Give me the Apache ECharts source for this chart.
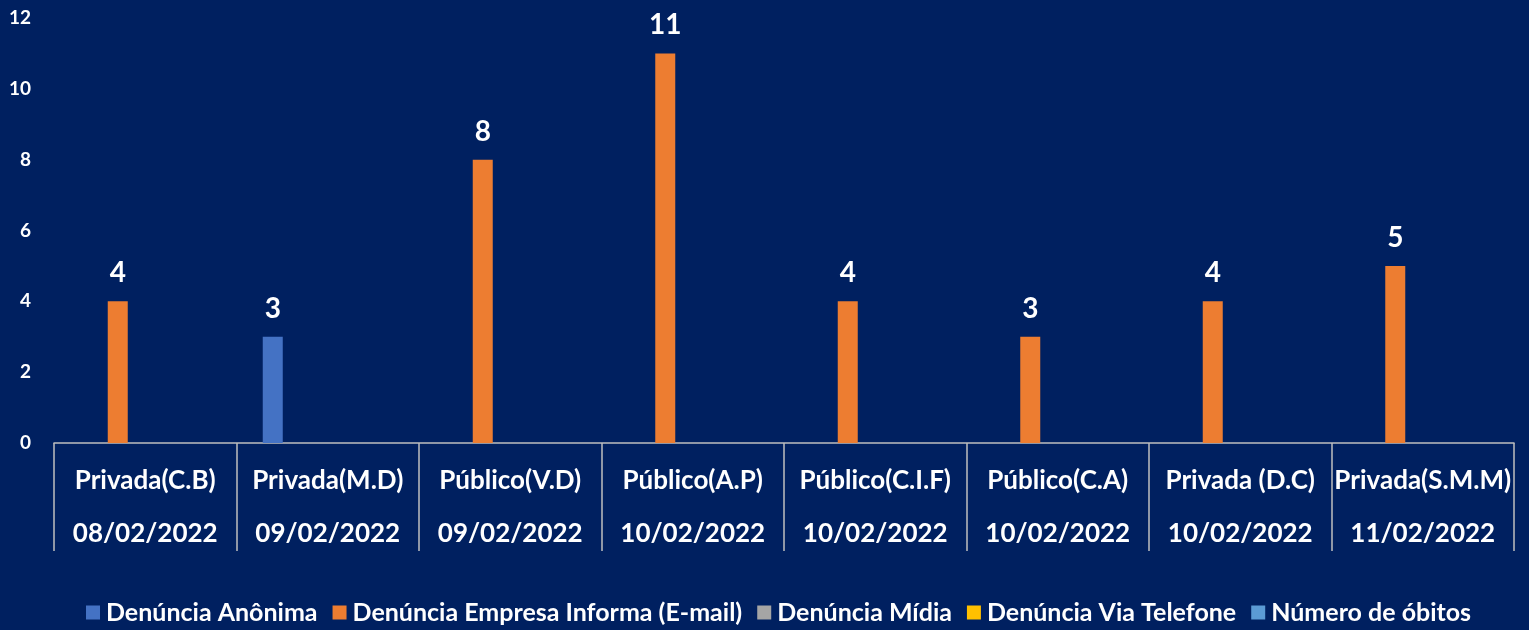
<!DOCTYPE html>
<html><head><meta charset="utf-8">
<script src="https://cdn.jsdelivr.net/npm/echarts@6/dist/echarts.min.js"></script>
<style>html,body{margin:0;padding:0;background:#002060;}#c{width:1529px;height:630px;}</style>
</head><body><div id="c"></div>
<script>
const categoryNames = ['Privada(C.B)','Privada(M.D)','Público(V.D)','Público(A.P)','Público(C.I.F)','Público(C.A)','Privada (D.C)','Privada(S.M.M)'];
const categoryDates = ['08/02/2022','09/02/2022','09/02/2022','10/02/2022','10/02/2022','10/02/2022','10/02/2022','11/02/2022'];
const seriesNames = ['Denúncia Anônima','Denúncia Empresa Informa (E-mail)','Denúncia Mídia','Denúncia Via Telefone','Número de óbitos'];
const anonima  = [null, 3, null, null, null, null, null, null];
const email    = [4, null, 8, 11, 4, 3, 4, 5];
const midia    = [null, null, null, null, null, null, null, null];
const telefone = [null, null, null, null, null, null, null, null];
const obitos   = [null, null, null, null, null, null, null, null];
const yTicks = {min: 0, max: 12, interval: 2};

const colors = ['#4472C4','#ED7D31','#A5A5A5','#FFC000','#5B9BD5'];
const FONT = 'Lato';
const seriesData = [anonima, email, midia, telefone, obitos];
const chart = echarts.init(document.getElementById('c'));
chart.setOption({
  backgroundColor: '#002060',
  animation: false,
  grid: {left: 54, right: 15, top: 18, bottom: 187},
  legend: {
    bottom: 0, left: 81,
    itemWidth: 14, itemHeight: 14, itemGap: 15, icon: 'rect',
    textStyle: {color: '#fff', fontFamily: FONT, fontWeight: 'bold', fontSize: 25, padding: [0,0,0,1]},
    data: seriesNames
  },
  xAxis: {
    type: 'category',
    data: categoryNames.map((n, i) => n + '\n' + categoryDates[i]),
    axisLine: {lineStyle: {color: '#BFBFBF', width: 1.5}},
    axisTick: {show: true, length: 108, interval: 0, lineStyle: {color: '#BFBFBF', width: 1.5}},
    axisLabel: {
      interval: 0, margin: 11, color: '#fff', fontFamily: FONT, fontWeight: 'bold',
      fontSize: 26, lineHeight: 53
    }
  },
  yAxis: {
    type: 'value', min: yTicks.min, max: yTicks.max, interval: yTicks.interval,
    splitLine: {show: false}, axisLine: {show: false}, axisTick: {show: false},
    axisLabel: {color: '#fff', fontFamily: FONT, fontWeight: 'bold', fontSize: 19, margin: 23}
  },
  series: seriesNames.map((name, i) => ({
    name, type: 'bar', data: seriesData[i],
    itemStyle: {color: colors[i]},
    barWidth: 20, barGap: '37.5%',
    label: {
      show: true, position: 'top', distance: 14, color: '#fff',
      fontFamily: FONT, fontWeight: 'bold', fontSize: 28,
      formatter: p => (p.value == null ? '' : p.value)
    }
  }))
});
</script></body></html>
